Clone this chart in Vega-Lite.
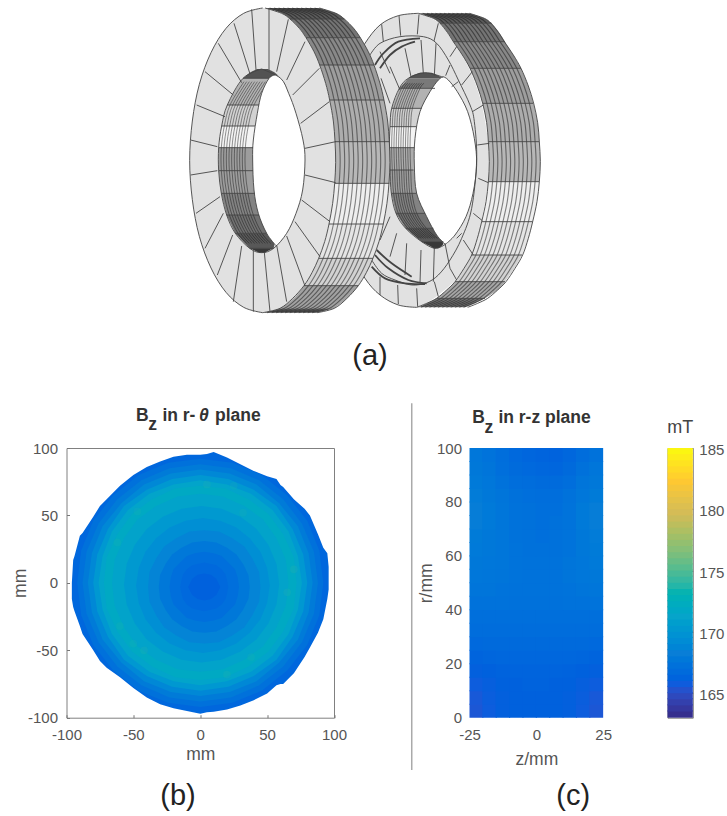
{
"$schema":"https://vega.github.io/schema/vega-lite/v6.json",
"autosize":{"type":"none"},
"padding":{"left":66.5,"top":0,"right":660.5,"bottom":816},
"background":"#ffffff",
"config":{"view":{"stroke":"#808080"},"font":"Liberation Sans","axis":{"grid":false,"domain":false,"labelFont":"Liberation Sans","titleFont":"Liberation Sans","labelColor":"#555555","titleColor":"#555555","labelFontSize":15,"titleFontSize":17.5,"titleFontWeight":"normal","tickColor":"#777777","labelFlush":false,"labelOverlap":false,"labelExpr":"toString(datum.value)"}},
"datasets":{
"ringLabel":[{"x":600,"y":1095,"t":"(a)"}],
"rSide":[
{"g":1,"b":100,"y":40,"x":745,"x2":898},{"g":1,"b":100,"y":55,"x":790,"x2":943},{"g":1,"b":100,"y":70,"x":810,"x2":965},
{"g":2,"b":125,"y":70,"x":810,"x2":965},{"g":2,"b":125,"y":97,"x":832,"x2":987},{"g":2,"b":125,"y":125,"x":850,"x2":1005},
{"g":3,"b":145,"y":125,"x":850,"x2":1005},{"g":3,"b":145,"y":165,"x":877,"x2":1030},{"g":3,"b":145,"y":205,"x":900,"x2":1053},
{"g":4,"b":165,"y":205,"x":900,"x2":1053},{"g":4,"b":165,"y":258,"x":922,"x2":1075},{"g":4,"b":165,"y":310,"x":938,"x2":1090},
{"g":5,"b":180,"y":310,"x":938,"x2":1090},{"g":5,"b":180,"y":368,"x":950,"x2":1103},{"g":5,"b":180,"y":425,"x":955,"x2":1108},
{"g":6,"b":190,"y":425,"x":955,"x2":1108},{"g":6,"b":190,"y":485,"x":958,"x2":1111},{"g":6,"b":190,"y":545,"x":955,"x2":1108},
{"g":7,"b":240,"y":545,"x":955,"x2":1108},{"g":7,"b":240,"y":605,"x":948,"x2":1101},{"g":7,"b":240,"y":665,"x":935,"x2":1088},
{"g":8,"b":232,"y":665,"x":935,"x2":1088},{"g":8,"b":232,"y":715,"x":922,"x2":1075},{"g":8,"b":232,"y":765,"x":905,"x2":1056},
{"g":9,"b":215,"y":765,"x":905,"x2":1056},{"g":9,"b":215,"y":805,"x":882,"x2":1033},{"g":9,"b":215,"y":845,"x":855,"x2":1005},
{"g":10,"b":175,"y":845,"x":855,"x2":1005},{"g":10,"b":175,"y":870,"x":830,"x2":983},{"g":10,"b":175,"y":895,"x":800,"x2":945},
{"g":11,"b":125,"y":895,"x":800,"x2":945},{"g":11,"b":125,"y":910,"x":770,"x2":915},{"g":11,"b":125,"y":922,"x":740,"x2":885}],
"aR":[{"x":745,"y":40},{"x":790,"y":55},{"x":810,"y":70},{"x":832,"y":97},{"x":850,"y":125},{"x":877,"y":165},{"x":900,"y":205},{"x":922,"y":258},{"x":938,"y":310},{"x":950,"y":368},{"x":955,"y":425},{"x":958,"y":485},{"x":955,"y":545},{"x":948,"y":605},{"x":935,"y":665},{"x":922,"y":715},{"x":905,"y":765},{"x":882,"y":805},{"x":855,"y":845},{"x":830,"y":870},{"x":800,"y":895},{"x":770,"y":910},{"x":740,"y":922}],
"rFace":[
{"g":20,"b":228,"y":40,"x":745,"x2":745},{"g":20,"b":228,"y":47,"x":685,"x2":768},{"g":20,"b":228,"y":75,"x":630,"x2":815},{"g":20,"b":228,"y":130,"x":585,"x2":852},{"g":20,"b":228,"y":200,"x":548,"x2":895},{"g":20,"b":228,"y":300,"x":505,"x2":932},{"g":20,"b":228,"y":430,"x":490,"x2":955},{"g":20,"b":228,"y":520,"x":488,"x2":958},{"g":20,"b":228,"y":650,"x":505,"x2":937},{"g":20,"b":228,"y":750,"x":540,"x2":912},{"g":20,"b":228,"y":835,"x":585,"x2":860},{"g":20,"b":228,"y":885,"x":630,"x2":805},{"g":20,"b":228,"y":915,"x":685,"x2":760},{"g":20,"b":228,"y":922,"x":740,"x2":740},
{"g":21,"b":90,"y":218,"x":750,"x2":785},{"g":21,"b":90,"y":226,"x":728,"x2":802},{"g":21,"b":90,"y":235,"x":715,"x2":818},
{"g":22,"b":130,"y":235,"x":715,"x2":818},{"g":22,"b":130,"y":265,"x":688,"x2":795},
{"g":23,"b":185,"y":265,"x":688,"x2":795},{"g":23,"b":185,"y":325,"x":665,"x2":755},
{"g":24,"b":215,"y":325,"x":665,"x2":755},{"g":24,"b":215,"y":380,"x":660,"x2":738},
{"g":25,"b":245,"y":380,"x":660,"x2":738},{"g":25,"b":245,"y":443,"x":658,"x2":733},
{"g":26,"b":180,"y":443,"x":658,"x2":733},{"g":26,"b":180,"y":510,"x":660,"x2":731},
{"g":27,"b":165,"y":510,"x":660,"x2":731},{"g":27,"b":165,"y":580,"x":664,"x2":740},
{"g":28,"b":140,"y":580,"x":664,"x2":740},{"g":28,"b":140,"y":640,"x":678,"x2":765},
{"g":29,"b":120,"y":640,"x":678,"x2":765},{"g":29,"b":120,"y":685,"x":707,"x2":790},
{"g":30,"b":95,"y":685,"x":707,"x2":790},{"g":30,"b":95,"y":725,"x":755,"x2":825},
{"g":31,"b":60,"y":725,"x":755,"x2":825},{"g":31,"b":60,"y":738,"x":780,"x2":815},{"g":31,"b":60,"y":745,"x":790,"x2":805}],
"iR":[{"x":700,"y":250},{"x":688,"y":265},{"x":665,"y":325},{"x":660,"y":380},{"x":658,"y":443},{"x":660,"y":510},{"x":664,"y":580},{"x":678,"y":640},{"x":707,"y":685},{"x":740,"y":715}],
"rHole":[{"y":230,"x":815,"x2":825},{"y":240,"x":805,"x2":835},{"y":255,"x":793,"x2":848},{"y":275,"x":780,"x2":862},{"y":335,"x":750,"x2":893},{"y":415,"x":735,"x2":913},{"y":495,"x":733,"x2":920},{"y":580,"x":740,"x2":909},{"y":650,"x":770,"x2":888},{"y":705,"x":800,"x2":855},{"y":722,"x":815,"x2":838},{"y":733,"x":822,"x2":830}],
"rLines":[
{"g":"ol","x":745,"y":40},{"g":"ol","x":685,"y":47},{"g":"ol","x":630,"y":75},{"g":"ol","x":585,"y":130},{"g":"ol","x":548,"y":200},{"g":"ol","x":505,"y":300},{"g":"ol","x":490,"y":430},{"g":"ol","x":488,"y":520},{"g":"ol","x":505,"y":650},{"g":"ol","x":540,"y":750},{"g":"ol","x":585,"y":835},{"g":"ol","x":630,"y":885},{"g":"ol","x":685,"y":915},{"g":"ol","x":740,"y":922},
{"g":"m","x":600,"y":165},{"g":"m","x":630,"y":130},{"g":"m","x":690,"y":110},{"g":"m","x":760,"y":110},{"g":"m","x":800,"y":130},{"g":"m","x":835,"y":180},{"g":"m","x":865,"y":240},{"g":"m","x":900,"y":315},{"g":"m","x":913,"y":365},{"g":"m","x":920,"y":480},{"g":"m","x":905,"y":625},{"g":"m","x":875,"y":715},{"g":"m","x":840,"y":780},{"g":"m","x":805,"y":825},{"g":"m","x":770,"y":848},{"g":"m","x":725,"y":855},{"g":"m","x":675,"y":840},{"g":"m","x":635,"y":820},{"g":"m","x":605,"y":780},
{"g":"if","x":820,"y":232},{"g":"if","x":765,"y":218},{"g":"if","x":715,"y":235},{"g":"if","x":688,"y":265},{"g":"if","x":665,"y":325},{"g":"if","x":660,"y":380},{"g":"if","x":658,"y":443},{"g":"if","x":660,"y":510},{"g":"if","x":664,"y":580},{"g":"if","x":678,"y":640},{"g":"if","x":707,"y":685},{"g":"if","x":755,"y":725},{"g":"if","x":795,"y":745},{"g":"if","x":826,"y":733},
{"g":"hl","x":820,"y":230},{"g":"hl","x":805,"y":240},{"g":"hl","x":780,"y":275},{"g":"hl","x":750,"y":335},{"g":"hl","x":735,"y":415},{"g":"hl","x":733,"y":495},{"g":"hl","x":740,"y":580},{"g":"hl","x":770,"y":650},{"g":"hl","x":800,"y":705},{"g":"hl","x":826,"y":733},
{"g":"hr","x":820,"y":230},{"g":"hr","x":835,"y":240},{"g":"hr","x":862,"y":275},{"g":"hr","x":893,"y":335},{"g":"hr","x":913,"y":415},{"g":"hr","x":920,"y":495},{"g":"hr","x":909,"y":580},{"g":"hr","x":888,"y":650},{"g":"hr","x":855,"y":705},{"g":"hr","x":826,"y":733}],
"rGroove":[
{"g":"g1","x":615,"y":195},{"g":"g1","x":640,"y":160},{"g":"g1","x":685,"y":125},{"g":"g1","x":750,"y":115},
{"g":"g2","x":630,"y":205},{"g":"g2","x":660,"y":165},{"g":"g2","x":695,"y":140},{"g":"g2","x":735,"y":125},
{"g":"g3","x":605,"y":800},{"g":"g3","x":645,"y":835},{"g":"g3","x":705,"y":850},{"g":"g3","x":765,"y":852},
{"g":"g4","x":615,"y":765},{"g":"g4","x":655,"y":805},{"g":"g4","x":715,"y":840},{"g":"g4","x":770,"y":850},
{"g":"g5","x":620,"y":750},{"g":"g5","x":665,"y":790},{"g":"g5","x":725,"y":830}],
"rSeg":[
{"x":635,"y":73,"x2":640,"y2":125},{"x":687,"y":47,"x2":692,"y2":107},{"x":747,"y":43,"x2":742,"y2":103},{"x":805,"y":70,"x2":792,"y2":123},{"x":860,"y":140,"x2":840,"y2":170},{"x":907,"y":215,"x2":875,"y2":255},{"x":940,"y":315,"x2":907,"y2":335},{"x":958,"y":430,"x2":922,"y2":435},
{"x":705,"y":145,"x2":723,"y2":230},{"x":753,"y":120,"x2":760,"y2":220},{"x":798,"y":130,"x2":793,"y2":227},{"x":840,"y":195,"x2":827,"y2":227},{"x":660,"y":200,"x2":690,"y2":270},{"x":630,"y":155,"x2":660,"y2":220},{"x":633,"y":235,"x2":660,"y2":310},{"x":865,"y":245,"x2":845,"y2":260},
{"x":925,"y":535,"x2":955,"y2":548},{"x":910,"y":640,"x2":937,"y2":662},{"x":880,"y":720,"x2":910,"y2":765},{"x":840,"y":805,"x2":860,"y2":840},{"x":793,"y":845,"x2":805,"y2":890},{"x":740,"y":865,"x2":743,"y2":920},{"x":683,"y":855,"x2":685,"y2":912},{"x":630,"y":830,"x2":630,"y2":885},
{"x":860,"y":715,"x2":875,"y2":700},{"x":825,"y":730,"x2":840,"y2":805},{"x":793,"y":742,"x2":790,"y2":845},{"x":753,"y":750,"x2":750,"y2":850},{"x":710,"y":730,"x2":705,"y2":825},{"x":680,"y":700,"x2":660,"y2":770},{"x":660,"y":650,"x2":630,"y2":720},
{"x":810,"y":70,"x2":965,"y2":70},{"x":850,"y":125,"x2":1005,"y2":125},{"x":900,"y":205,"x2":1053,"y2":205},{"x":938,"y":310,"x2":1090,"y2":310},{"x":955,"y":425,"x2":1108,"y2":425},{"x":955,"y":545,"x2":1108,"y2":545},{"x":935,"y":665,"x2":1088,"y2":665},{"x":905,"y":765,"x2":1056,"y2":765},{"x":855,"y":845,"x2":1005,"y2":845},{"x":800,"y":895,"x2":945,"y2":895},
{"x":688,"y":265,"x2":795,"y2":265},{"x":665,"y":325,"x2":755,"y2":325},{"x":660,"y":380,"x2":738,"y2":380},{"x":658,"y":443,"x2":733,"y2":443},{"x":660,"y":510,"x2":731,"y2":510},{"x":664,"y":580,"x2":740,"y2":580},{"x":678,"y":640,"x2":765,"y2":640},{"x":707,"y":685,"x2":790,"y2":685},{"x":755,"y":725,"x2":820,"y2":725}],
"lSide":[
{"g":1,"b":100,"y":24,"x":285,"x2":448},{"g":1,"b":100,"y":40,"x":335,"x2":498},{"g":1,"b":100,"y":57,"x":360,"x2":523},
{"g":2,"b":125,"y":57,"x":360,"x2":523},{"g":2,"b":125,"y":85,"x":388,"x2":551},{"g":2,"b":125,"y":113,"x":408,"x2":571},
{"g":3,"b":145,"y":113,"x":408,"x2":571},{"g":3,"b":145,"y":155,"x":432,"x2":595},{"g":3,"b":145,"y":195,"x":449,"x2":612},
{"g":4,"b":165,"y":195,"x":449,"x2":612},{"g":4,"b":165,"y":250,"x":467,"x2":630},{"g":4,"b":165,"y":300,"x":479,"x2":642},
{"g":5,"b":180,"y":300,"x":479,"x2":642},{"g":5,"b":180,"y":363,"x":490,"x2":653},{"g":5,"b":180,"y":425,"x":495,"x2":658},
{"g":6,"b":190,"y":425,"x":495,"x2":658},{"g":6,"b":190,"y":487,"x":497,"x2":660},{"g":6,"b":190,"y":550,"x":494,"x2":658},
{"g":7,"b":240,"y":550,"x":494,"x2":658},{"g":7,"b":240,"y":610,"x":488,"x2":652},{"g":7,"b":240,"y":672,"x":477,"x2":640},
{"g":8,"b":232,"y":672,"x":477,"x2":640},{"g":8,"b":232,"y":725,"x":464,"x2":627},{"g":8,"b":232,"y":775,"x":446,"x2":609},
{"g":9,"b":215,"y":775,"x":446,"x2":609},{"g":9,"b":215,"y":818,"x":426,"x2":589},{"g":9,"b":215,"y":857,"x":402,"x2":565},
{"g":10,"b":170,"y":857,"x":402,"x2":565},{"g":10,"b":170,"y":895,"x":368,"x2":531},{"g":10,"b":170,"y":925,"x":330,"x2":493},
{"g":11,"b":125,"y":925,"x":330,"x2":493},{"g":11,"b":125,"y":938,"x":278,"x2":441}],
"aL":[{"x":285,"y":24},{"x":335,"y":40},{"x":360,"y":57},{"x":388,"y":85},{"x":408,"y":113},{"x":432,"y":155},{"x":449,"y":195},{"x":467,"y":250},{"x":479,"y":300},{"x":490,"y":363},{"x":495,"y":425},{"x":497,"y":487},{"x":494,"y":550},{"x":488,"y":610},{"x":477,"y":672},{"x":464,"y":725},{"x":446,"y":775},{"x":426,"y":818},{"x":402,"y":857},{"x":368,"y":895},{"x":330,"y":925},{"x":278,"y":938}],
"lFace":[
{"g":20,"b":228,"y":24,"x":278,"x2":278},{"g":20,"b":228,"y":40,"x":221,"x2":335},{"g":20,"b":228,"y":85,"x":168,"x2":388},{"g":20,"b":228,"y":158,"x":123,"x2":433},{"g":20,"b":228,"y":253,"x":88,"x2":468},{"g":20,"b":228,"y":363,"x":67,"x2":490},{"g":20,"b":228,"y":481,"x":59,"x2":497},{"g":20,"b":228,"y":599,"x":67,"x2":490},{"g":20,"b":228,"y":709,"x":88,"x2":468},{"g":20,"b":228,"y":804,"x":123,"x2":433},{"g":20,"b":228,"y":877,"x":168,"x2":388},{"g":20,"b":228,"y":922,"x":221,"x2":335},{"g":20,"b":228,"y":938,"x":278,"x2":278},
{"g":21,"b":90,"y":207,"x":262,"x2":292},{"g":21,"b":90,"y":218,"x":240,"x2":315},{"g":21,"b":90,"y":235,"x":219,"x2":332},
{"g":22,"b":185,"y":235,"x":219,"x2":332},{"g":22,"b":185,"y":275,"x":193,"x2":330},{"g":22,"b":185,"y":315,"x":172,"x2":300},
{"g":23,"b":215,"y":315,"x":172,"x2":300},{"g":23,"b":215,"y":378,"x":155,"x2":300},
{"g":24,"b":245,"y":378,"x":155,"x2":300},{"g":24,"b":245,"y":443,"x":146,"x2":300},
{"g":25,"b":165,"y":443,"x":146,"x2":300},{"g":25,"b":165,"y":512,"x":146,"x2":300},
{"g":26,"b":165,"y":512,"x":146,"x2":300},{"g":26,"b":165,"y":580,"x":154,"x2":300},
{"g":27,"b":140,"y":580,"x":154,"x2":300},{"g":27,"b":140,"y":645,"x":170,"x2":300},
{"g":28,"b":120,"y":645,"x":170,"x2":300},{"g":28,"b":120,"y":700,"x":196,"x2":320},
{"g":29,"b":95,"y":700,"x":196,"x2":320},{"g":29,"b":95,"y":745,"x":239,"x2":311},
{"g":30,"b":60,"y":745,"x":239,"x2":311},{"g":30,"b":60,"y":752,"x":255,"x2":295},{"g":30,"b":60,"y":758,"x":268,"x2":285}],
"iL":[{"x":214,"y":245},{"x":172,"y":315},{"x":155,"y":378},{"x":146,"y":443},{"x":146,"y":512},{"x":154,"y":580},{"x":170,"y":645},{"x":196,"y":700},{"x":222,"y":730}],
"lHole":[{"y":226,"x":310,"x2":320},{"y":235,"x":297,"x2":332},{"y":250,"x":288,"x2":341},{"y":280,"x":275,"x2":356},{"y":340,"x":262,"x2":378},{"y":420,"x":250,"x2":399},{"y":480,"x":248,"x2":405},{"y":570,"x":252,"x2":398},{"y":640,"x":265,"x2":378},{"y":700,"x":290,"x2":350},{"y":725,"x":308,"x2":330},{"y":737,"x":318,"x2":322}],
"lLines":[
{"g":"ol","x":278,"y":24},{"g":"ol","x":221,"y":40},{"g":"ol","x":168,"y":85},{"g":"ol","x":123,"y":158},{"g":"ol","x":88,"y":253},{"g":"ol","x":67,"y":363},{"g":"ol","x":59,"y":481},{"g":"ol","x":67,"y":599},{"g":"ol","x":88,"y":709},{"g":"ol","x":123,"y":804},{"g":"ol","x":168,"y":877},{"g":"ol","x":221,"y":922},{"g":"ol","x":278,"y":938},
{"g":"if","x":275,"y":207},{"g":"if","x":219,"y":235},{"g":"if","x":172,"y":315},{"g":"if","x":155,"y":378},{"g":"if","x":146,"y":443},{"g":"if","x":146,"y":512},{"g":"if","x":154,"y":580},{"g":"if","x":170,"y":645},{"g":"if","x":196,"y":700},{"g":"if","x":239,"y":745},{"g":"if","x":275,"y":758},{"g":"if","x":311,"y":745},{"g":"if","x":350,"y":700},{"g":"if","x":378,"y":640},{"g":"if","x":398,"y":570},{"g":"if","x":405,"y":480},{"g":"if","x":399,"y":420},{"g":"if","x":378,"y":340},{"g":"if","x":356,"y":280},{"g":"if","x":332,"y":235},{"g":"if","x":275,"y":207},
{"g":"hl","x":315,"y":225},{"g":"hl","x":297,"y":235},{"g":"hl","x":275,"y":280},{"g":"hl","x":262,"y":340},{"g":"hl","x":250,"y":420},{"g":"hl","x":248,"y":480},{"g":"hl","x":252,"y":570},{"g":"hl","x":265,"y":640},{"g":"hl","x":290,"y":700},{"g":"hl","x":318,"y":737}],
"lSeg":[
{"x":258,"y":210,"x2":245,"y2":28},{"x":297,"y":210,"x2":297,"y2":26},{"x":320,"y":215,"x2":355,"y2":58},{"x":350,"y":240,"x2":405,"y2":125},{"x":368,"y":285,"x2":448,"y2":205},{"x":392,"y":370,"x2":478,"y2":305},{"x":405,"y":445,"x2":497,"y2":425},{"x":405,"y":525,"x2":497,"y2":548},{"x":395,"y":600,"x2":480,"y2":665},{"x":375,"y":665,"x2":450,"y2":770},{"x":350,"y":708,"x2":405,"y2":858},{"x":320,"y":735,"x2":350,"y2":905},{"x":283,"y":757,"x2":300,"y2":935},{"x":250,"y":752,"x2":250,"y2":935},{"x":215,"y":738,"x2":190,"y2":905},{"x":188,"y":705,"x2":142,"y2":825},{"x":160,"y":640,"x2":105,"y2":745},{"x":150,"y":590,"x2":78,"y2":640},{"x":142,"y":512,"x2":62,"y2":525},{"x":142,"y":440,"x2":62,"y2":420},{"x":165,"y":350,"x2":80,"y2":315},{"x":190,"y":285,"x2":105,"y2":215},{"x":215,"y":248,"x2":145,"y2":130},{"x":240,"y":222,"x2":192,"y2":70},
{"x":360,"y":57,"x2":523,"y2":57},{"x":408,"y":113,"x2":571,"y2":113},{"x":449,"y":195,"x2":612,"y2":195},{"x":479,"y":300,"x2":642,"y2":300},{"x":495,"y":425,"x2":658,"y2":425},{"x":494,"y":550,"x2":658,"y2":550},{"x":477,"y":672,"x2":640,"y2":672},{"x":446,"y":775,"x2":609,"y2":775},{"x":402,"y":857,"x2":565,"y2":857},
{"x":219,"y":235,"x2":297,"y2":235},{"x":172,"y":315,"x2":267,"y2":315},{"x":155,"y":378,"x2":255,"y2":378},{"x":146,"y":443,"x2":249,"y2":443},{"x":146,"y":512,"x2":249,"y2":512},{"x":154,"y":580,"x2":254,"y2":580},{"x":170,"y":645,"x2":267,"y2":645},{"x":196,"y":700,"x2":290,"y2":700},{"x":239,"y":745,"x2":311,"y2":745}],
"field":[
{"v":166.5,"x":-96,"y":0,"y2":-12},{"v":166.5,"x":-95,"y":17,"y2":-18},{"v":166.5,"x":-94,"y":20,"y2":-21},{"v":166.5,"x":-90,"y":35,"y2":-32},{"v":166.5,"x":-88,"y":37,"y2":-38},{"v":166.5,"x":-80,"y":49,"y2":-50},{"v":166.5,"x":-75,"y":57,"y2":-58},{"v":166.5,"x":-70,"y":62,"y2":-63},{"v":166.5,"x":-60,"y":72,"y2":-70},{"v":166.5,"x":-50,"y":80,"y2":-78},{"v":166.5,"x":-40,"y":86,"y2":-85},{"v":166.5,"x":-30,"y":90,"y2":-90},{"v":166.5,"x":-20,"y":93.5,"y2":-93},{"v":166.5,"x":-10,"y":95,"y2":-95},{"v":166.5,"x":0,"y":95,"y2":-97},{"v":166.5,"x":5,"y":95.5,"y2":-96},{"v":166.5,"x":10,"y":97,"y2":-95.5},{"v":166.5,"x":20,"y":93,"y2":-94},{"v":166.5,"x":30,"y":88,"y2":-91},{"v":166.5,"x":40,"y":83,"y2":-87},{"v":166.5,"x":50,"y":79,"y2":-82},{"v":166.5,"x":57,"y":77,"y2":-76},{"v":166.5,"x":60,"y":72.6,"y2":-75},{"v":166.5,"x":62,"y":71,"y2":-75},{"v":166.5,"x":70,"y":62,"y2":-67},{"v":166.5,"x":78,"y":55,"y2":-55},{"v":166.5,"x":82,"y":50,"y2":-48},{"v":166.5,"x":88,"y":36,"y2":-37},{"v":166.5,"x":92,"y":26,"y2":-27},{"v":166.5,"x":95,"y":22,"y2":-12},{"v":166.5,"x":96,"y":12,"y2":-5},
{"v":167.2,"x":-92,"y":0,"y2":0},{"v":167.2,"x":-89,"y":24,"y2":-24},{"v":167.2,"x":-80,"y":46,"y2":-46},{"v":167.2,"x":-65,"y":65,"y2":-65},{"v":167.2,"x":-46,"y":80,"y2":-80},{"v":167.2,"x":-24,"y":89,"y2":-89},{"v":167.2,"x":0,"y":92,"y2":-92},{"v":167.2,"x":24,"y":89,"y2":-89},{"v":167.2,"x":46,"y":80,"y2":-80},{"v":167.2,"x":65,"y":65,"y2":-65},{"v":167.2,"x":80,"y":46,"y2":-46},{"v":167.2,"x":89,"y":24,"y2":-24},{"v":167.2,"x":92,"y":0,"y2":0},
{"v":168,"x":-88,"y":0,"y2":0},{"v":168,"x":-85,"y":23,"y2":-23},{"v":168,"x":-76,"y":44,"y2":-44},{"v":168,"x":-62,"y":62,"y2":-62},{"v":168,"x":-44,"y":76,"y2":-76},{"v":168,"x":-23,"y":85,"y2":-85},{"v":168,"x":0,"y":88,"y2":-88},{"v":168,"x":23,"y":85,"y2":-85},{"v":168,"x":44,"y":76,"y2":-76},{"v":168,"x":62,"y":62,"y2":-62},{"v":168,"x":76,"y":44,"y2":-44},{"v":168,"x":85,"y":23,"y2":-23},{"v":168,"x":88,"y":0,"y2":0},
{"v":169,"x":-84,"y":0,"y2":0},{"v":169,"x":-81,"y":22,"y2":-22},{"v":169,"x":-73,"y":42,"y2":-42},{"v":169,"x":-59,"y":59,"y2":-59},{"v":169,"x":-42,"y":73,"y2":-73},{"v":169,"x":-22,"y":81,"y2":-81},{"v":169,"x":0,"y":84,"y2":-84},{"v":169,"x":22,"y":81,"y2":-81},{"v":169,"x":42,"y":73,"y2":-73},{"v":169,"x":59,"y":59,"y2":-59},{"v":169,"x":73,"y":42,"y2":-42},{"v":169,"x":81,"y":22,"y2":-22},{"v":169,"x":84,"y":0,"y2":0},
{"v":170.2,"x":-80,"y":0,"y2":0},{"v":170.2,"x":-77,"y":21,"y2":-21},{"v":170.2,"x":-69,"y":40,"y2":-40},{"v":170.2,"x":-57,"y":57,"y2":-57},{"v":170.2,"x":-40,"y":69,"y2":-69},{"v":170.2,"x":-21,"y":77,"y2":-77},{"v":170.2,"x":0,"y":80,"y2":-80},{"v":170.2,"x":21,"y":77,"y2":-77},{"v":170.2,"x":40,"y":69,"y2":-69},{"v":170.2,"x":57,"y":57,"y2":-57},{"v":170.2,"x":69,"y":40,"y2":-40},{"v":170.2,"x":77,"y":21,"y2":-21},{"v":170.2,"x":80,"y":0,"y2":0},
{"v":171.3,"x":-76,"y":0,"y2":0},{"v":171.3,"x":-73,"y":20,"y2":-20},{"v":171.3,"x":-66,"y":38,"y2":-38},{"v":171.3,"x":-54,"y":54,"y2":-54},{"v":171.3,"x":-38,"y":66,"y2":-66},{"v":171.3,"x":-20,"y":73,"y2":-73},{"v":171.3,"x":0,"y":76,"y2":-76},{"v":171.3,"x":20,"y":73,"y2":-73},{"v":171.3,"x":38,"y":66,"y2":-66},{"v":171.3,"x":54,"y":54,"y2":-54},{"v":171.3,"x":66,"y":38,"y2":-38},{"v":171.3,"x":73,"y":20,"y2":-20},{"v":171.3,"x":76,"y":0,"y2":0},
{"v":171.9,"x":-72,"y":0,"y2":0},{"v":171.9,"x":-70,"y":19,"y2":-19},{"v":171.9,"x":-62,"y":36,"y2":-36},{"v":171.9,"x":-51,"y":51,"y2":-51},{"v":171.9,"x":-36,"y":62,"y2":-62},{"v":171.9,"x":-19,"y":70,"y2":-70},{"v":171.9,"x":0,"y":72,"y2":-72},{"v":171.9,"x":19,"y":70,"y2":-70},{"v":171.9,"x":36,"y":62,"y2":-62},{"v":171.9,"x":51,"y":51,"y2":-51},{"v":171.9,"x":62,"y":36,"y2":-36},{"v":171.9,"x":70,"y":19,"y2":-19},{"v":171.9,"x":72,"y":0,"y2":0},
{"v":171.2,"x":-66,"y":0,"y2":0},{"v":171.2,"x":-64,"y":17,"y2":-17},{"v":171.2,"x":-57,"y":33,"y2":-33},{"v":171.2,"x":-47,"y":47,"y2":-47},{"v":171.2,"x":-33,"y":57,"y2":-57},{"v":171.2,"x":-17,"y":64,"y2":-64},{"v":171.2,"x":0,"y":66,"y2":-66},{"v":171.2,"x":17,"y":64,"y2":-64},{"v":171.2,"x":33,"y":57,"y2":-57},{"v":171.2,"x":47,"y":47,"y2":-47},{"v":171.2,"x":57,"y":33,"y2":-33},{"v":171.2,"x":64,"y":17,"y2":-17},{"v":171.2,"x":66,"y":0,"y2":0},
{"v":170.3,"x":-57,"y":-1,"y2":-1},{"v":170.3,"x":-55,"y":14,"y2":-16},{"v":170.3,"x":-49,"y":28,"y2":-30},{"v":170.3,"x":-40,"y":40,"y2":-42},{"v":170.3,"x":-28,"y":49,"y2":-51},{"v":170.3,"x":-14,"y":55,"y2":-57},{"v":170.3,"x":1,"y":57,"y2":-59},{"v":170.3,"x":16,"y":55,"y2":-57},{"v":170.3,"x":30,"y":49,"y2":-51},{"v":170.3,"x":42,"y":40,"y2":-42},{"v":170.3,"x":51,"y":28,"y2":-30},{"v":170.3,"x":57,"y":14,"y2":-16},{"v":170.3,"x":59,"y":-1,"y2":-1},
{"v":169.5,"x":-48,"y":-2,"y2":-2},{"v":169.5,"x":-46,"y":11,"y2":-15},{"v":169.5,"x":-41,"y":23,"y2":-27},{"v":169.5,"x":-33,"y":33,"y2":-37},{"v":169.5,"x":-23,"y":41,"y2":-45},{"v":169.5,"x":-11,"y":46,"y2":-50},{"v":169.5,"x":2,"y":48,"y2":-52},{"v":169.5,"x":15,"y":46,"y2":-50},{"v":169.5,"x":27,"y":41,"y2":-45},{"v":169.5,"x":37,"y":33,"y2":-37},{"v":169.5,"x":45,"y":23,"y2":-27},{"v":169.5,"x":50,"y":11,"y2":-15},{"v":169.5,"x":52,"y":-2,"y2":-2},
{"v":168.7,"x":-39,"y":-3,"y2":-3},{"v":168.7,"x":-38,"y":8,"y2":-14},{"v":168.7,"x":-33,"y":18,"y2":-24},{"v":168.7,"x":-27,"y":27,"y2":-33},{"v":168.7,"x":-18,"y":33,"y2":-39},{"v":168.7,"x":-8,"y":38,"y2":-44},{"v":168.7,"x":3,"y":39,"y2":-45},{"v":168.7,"x":14,"y":38,"y2":-44},{"v":168.7,"x":24,"y":33,"y2":-39},{"v":168.7,"x":33,"y":27,"y2":-33},{"v":168.7,"x":39,"y":18,"y2":-24},{"v":168.7,"x":44,"y":8,"y2":-14},{"v":168.7,"x":45,"y":-3,"y2":-3},
{"v":167.8,"x":-31,"y":-3,"y2":-3},{"v":167.8,"x":-30,"y":6,"y2":-12},{"v":167.8,"x":-26,"y":14,"y2":-20},{"v":167.8,"x":-21,"y":21,"y2":-27},{"v":167.8,"x":-14,"y":26,"y2":-32},{"v":167.8,"x":-6,"y":30,"y2":-36},{"v":167.8,"x":3,"y":31,"y2":-37},{"v":167.8,"x":12,"y":30,"y2":-36},{"v":167.8,"x":20,"y":26,"y2":-32},{"v":167.8,"x":27,"y":21,"y2":-27},{"v":167.8,"x":32,"y":14,"y2":-20},{"v":167.8,"x":36,"y":6,"y2":-12},{"v":167.8,"x":37,"y":-3,"y2":-3},
{"v":167.1,"x":-23,"y":-3,"y2":-3},{"v":167.1,"x":-22,"y":4,"y2":-10},{"v":167.1,"x":-20,"y":10,"y2":-16},{"v":167.1,"x":-15,"y":15,"y2":-21},{"v":167.1,"x":-10,"y":20,"y2":-26},{"v":167.1,"x":-4,"y":22,"y2":-28},{"v":167.1,"x":3,"y":23,"y2":-29},{"v":167.1,"x":10,"y":22,"y2":-28},{"v":167.1,"x":16,"y":20,"y2":-26},{"v":167.1,"x":21,"y":15,"y2":-21},{"v":167.1,"x":26,"y":10,"y2":-16},{"v":167.1,"x":28,"y":4,"y2":-10},{"v":167.1,"x":29,"y":-3,"y2":-3},
{"v":166.6,"x":-15,"y":-3,"y2":-3},{"v":166.6,"x":-14,"y":2,"y2":-8},{"v":166.6,"x":-13,"y":6,"y2":-12},{"v":166.6,"x":-10,"y":10,"y2":-16},{"v":166.6,"x":-6,"y":13,"y2":-19},{"v":166.6,"x":-2,"y":14,"y2":-20},{"v":166.6,"x":3,"y":15,"y2":-21},{"v":166.6,"x":8,"y":14,"y2":-20},{"v":166.6,"x":12,"y":13,"y2":-19},{"v":166.6,"x":16,"y":10,"y2":-16},{"v":166.6,"x":19,"y":6,"y2":-12},{"v":166.6,"x":20,"y":2,"y2":-8},{"v":166.6,"x":21,"y":-3,"y2":-3},
{"v":166.1,"x":-9,"y":-3,"y2":-3},{"v":166.1,"x":-6,"y":3,"y2":-9},{"v":166.1,"x":-2,"y":6,"y2":-12},{"v":166.1,"x":3,"y":7,"y2":-13},{"v":166.1,"x":8,"y":6,"y2":-12},{"v":166.1,"x":12,"y":3,"y2":-9},{"v":166.1,"x":15,"y":-3,"y2":-3}],
"spots":[{"x":5,"y":73,"v":174.5},{"x":-47,"y":53,"v":174},{"x":32,"y":52,"v":174},{"x":70,"y":10,"v":175},{"x":65,"y":-7,"v":174.5},{"x":-62,"y":30,"v":174},{"x":-60,"y":-32,"v":174},{"x":-42,"y":-50,"v":174.5},{"x":20,"y":-68,"v":174.5},{"x":38,"y":-55,"v":174},{"x":-50,"y":-45,"v":174},{"x":25,"y":72,"v":174}],
"rz":[
{"x":-22.5,"y":2.5,"v":165.5},{"x":-17.5,"y":2.5,"v":165.8},{"x":-12.5,"y":2.5,"v":166},{"x":-7.5,"y":2.5,"v":166.1},{"x":-2.5,"y":2.5,"v":166.1},{"x":2.5,"y":2.5,"v":166.1},{"x":7.5,"y":2.5,"v":166.1},{"x":12.5,"y":2.5,"v":166},{"x":17.5,"y":2.5,"v":165.8},{"x":22.5,"y":2.5,"v":165.5},
{"x":-22.5,"y":7.5,"v":165.6},{"x":-17.5,"y":7.5,"v":165.85},{"x":-12.5,"y":7.5,"v":166},{"x":-7.5,"y":7.5,"v":166.1},{"x":-2.5,"y":7.5,"v":166.1},{"x":2.5,"y":7.5,"v":166.1},{"x":7.5,"y":7.5,"v":166.1},{"x":12.5,"y":7.5,"v":166},{"x":17.5,"y":7.5,"v":165.85},{"x":22.5,"y":7.5,"v":165.6},
{"x":-22.5,"y":12.5,"v":165.8},{"x":-17.5,"y":12.5,"v":165.95},{"x":-12.5,"y":12.5,"v":166.1},{"x":-7.5,"y":12.5,"v":166.1},{"x":-2.5,"y":12.5,"v":166.2},{"x":2.5,"y":12.5,"v":166.2},{"x":7.5,"y":12.5,"v":166.1},{"x":12.5,"y":12.5,"v":166.1},{"x":17.5,"y":12.5,"v":165.95},{"x":22.5,"y":12.5,"v":165.8},
{"x":-22.5,"y":17.5,"v":166},{"x":-17.5,"y":17.5,"v":166.1},{"x":-12.5,"y":17.5,"v":166.2},{"x":-7.5,"y":17.5,"v":166.3},{"x":-2.5,"y":17.5,"v":166.3},{"x":2.5,"y":17.5,"v":166.3},{"x":7.5,"y":17.5,"v":166.3},{"x":12.5,"y":17.5,"v":166.2},{"x":17.5,"y":17.5,"v":166.1},{"x":22.5,"y":17.5,"v":166},
{"x":-22.5,"y":22.5,"v":166.3},{"x":-17.5,"y":22.5,"v":166.4},{"x":-12.5,"y":22.5,"v":166.5},{"x":-7.5,"y":22.5,"v":166.5},{"x":-2.5,"y":22.5,"v":166.5},{"x":2.5,"y":22.5,"v":166.5},{"x":7.5,"y":22.5,"v":166.5},{"x":12.5,"y":22.5,"v":166.5},{"x":17.5,"y":22.5,"v":166.4},{"x":22.5,"y":22.5,"v":166.3},
{"x":-22.5,"y":27.5,"v":166.6},{"x":-17.5,"y":27.5,"v":166.7},{"x":-12.5,"y":27.5,"v":166.7},{"x":-7.5,"y":27.5,"v":166.7},{"x":-2.5,"y":27.5,"v":166.7},{"x":2.5,"y":27.5,"v":166.7},{"x":7.5,"y":27.5,"v":166.7},{"x":12.5,"y":27.5,"v":166.7},{"x":17.5,"y":27.5,"v":166.7},{"x":22.5,"y":27.5,"v":166.6},
{"x":-22.5,"y":32.5,"v":166.9},{"x":-17.5,"y":32.5,"v":166.9},{"x":-12.5,"y":32.5,"v":166.9},{"x":-7.5,"y":32.5,"v":166.9},{"x":-2.5,"y":32.5,"v":166.9},{"x":2.5,"y":32.5,"v":166.9},{"x":7.5,"y":32.5,"v":166.9},{"x":12.5,"y":32.5,"v":166.9},{"x":17.5,"y":32.5,"v":166.9},{"x":22.5,"y":32.5,"v":166.9},
{"x":-22.5,"y":37.5,"v":167.1},{"x":-17.5,"y":37.5,"v":167.1},{"x":-12.5,"y":37.5,"v":167.1},{"x":-7.5,"y":37.5,"v":167.1},{"x":-2.5,"y":37.5,"v":167.1},{"x":2.5,"y":37.5,"v":167.1},{"x":7.5,"y":37.5,"v":167.1},{"x":12.5,"y":37.5,"v":167.1},{"x":17.5,"y":37.5,"v":167.1},{"x":22.5,"y":37.5,"v":167.1},
{"x":-22.5,"y":42.5,"v":167.3},{"x":-17.5,"y":42.5,"v":167.3},{"x":-12.5,"y":42.5,"v":167.3},{"x":-7.5,"y":42.5,"v":167.2},{"x":-2.5,"y":42.5,"v":167.2},{"x":2.5,"y":42.5,"v":167.2},{"x":7.5,"y":42.5,"v":167.2},{"x":12.5,"y":42.5,"v":167.3},{"x":17.5,"y":42.5,"v":167.3},{"x":22.5,"y":42.5,"v":167.4},
{"x":-22.5,"y":47.5,"v":167.5},{"x":-17.5,"y":47.5,"v":167.5},{"x":-12.5,"y":47.5,"v":167.4},{"x":-7.5,"y":47.5,"v":167.3},{"x":-2.5,"y":47.5,"v":167.3},{"x":2.5,"y":47.5,"v":167.3},{"x":7.5,"y":47.5,"v":167.3},{"x":12.5,"y":47.5,"v":167.4},{"x":17.5,"y":47.5,"v":167.5},{"x":22.5,"y":47.5,"v":167.6},
{"x":-22.5,"y":52.5,"v":167.7},{"x":-17.5,"y":52.5,"v":167.6},{"x":-12.5,"y":52.5,"v":167.5},{"x":-7.5,"y":52.5,"v":167.4},{"x":-2.5,"y":52.5,"v":167.3},{"x":2.5,"y":52.5,"v":167.3},{"x":7.5,"y":52.5,"v":167.3},{"x":12.5,"y":52.5,"v":167.5},{"x":17.5,"y":52.5,"v":167.7},{"x":22.5,"y":52.5,"v":167.8},
{"x":-22.5,"y":57.5,"v":167.8},{"x":-17.5,"y":57.5,"v":167.7},{"x":-12.5,"y":57.5,"v":167.6},{"x":-7.5,"y":57.5,"v":167.4},{"x":-2.5,"y":57.5,"v":167.3},{"x":2.5,"y":57.5,"v":167.3},{"x":7.5,"y":57.5,"v":167.3},{"x":12.5,"y":57.5,"v":167.5},{"x":17.5,"y":57.5,"v":167.7},{"x":22.5,"y":57.5,"v":167.9},
{"x":-22.5,"y":62.5,"v":167.9},{"x":-17.5,"y":62.5,"v":167.8},{"x":-12.5,"y":62.5,"v":167.6},{"x":-7.5,"y":62.5,"v":167.4},{"x":-2.5,"y":62.5,"v":167.2},{"x":2.5,"y":62.5,"v":167.2},{"x":7.5,"y":62.5,"v":167.2},{"x":12.5,"y":62.5,"v":167.4},{"x":17.5,"y":62.5,"v":167.8},{"x":22.5,"y":62.5,"v":168},
{"x":-22.5,"y":67.5,"v":168},{"x":-17.5,"y":67.5,"v":167.8},{"x":-12.5,"y":67.5,"v":167.6},{"x":-7.5,"y":67.5,"v":167.3},{"x":-2.5,"y":67.5,"v":167.2},{"x":2.5,"y":67.5,"v":167.1},{"x":7.5,"y":67.5,"v":167.2},{"x":12.5,"y":67.5,"v":167.4},{"x":17.5,"y":67.5,"v":167.8},{"x":22.5,"y":67.5,"v":168.1},
{"x":-22.5,"y":72.5,"v":168.2},{"x":-17.5,"y":72.5,"v":167.9},{"x":-12.5,"y":72.5,"v":167.6},{"x":-7.5,"y":72.5,"v":167.3},{"x":-2.5,"y":72.5,"v":167.2},{"x":2.5,"y":72.5,"v":167.1},{"x":7.5,"y":72.5,"v":167.2},{"x":12.5,"y":72.5,"v":167.4},{"x":17.5,"y":72.5,"v":167.9},{"x":22.5,"y":72.5,"v":168.2},
{"x":-22.5,"y":77.5,"v":168.2},{"x":-17.5,"y":77.5,"v":167.9},{"x":-12.5,"y":77.5,"v":167.6},{"x":-7.5,"y":77.5,"v":167.3},{"x":-2.5,"y":77.5,"v":167.2},{"x":2.5,"y":77.5,"v":167.1},{"x":7.5,"y":77.5,"v":167.1},{"x":12.5,"y":77.5,"v":167.4},{"x":17.5,"y":77.5,"v":167.9},{"x":22.5,"y":77.5,"v":168.2},
{"x":-22.5,"y":82.5,"v":168.1},{"x":-17.5,"y":82.5,"v":167.8},{"x":-12.5,"y":82.5,"v":167.5},{"x":-7.5,"y":82.5,"v":167.2},{"x":-2.5,"y":82.5,"v":167.1},{"x":2.5,"y":82.5,"v":167},{"x":7.5,"y":82.5,"v":167},{"x":12.5,"y":82.5,"v":167.3},{"x":17.5,"y":82.5,"v":167.7},{"x":22.5,"y":82.5,"v":168},
{"x":-22.5,"y":87.5,"v":167.9},{"x":-17.5,"y":87.5,"v":167.7},{"x":-12.5,"y":87.5,"v":167.3},{"x":-7.5,"y":87.5,"v":167},{"x":-2.5,"y":87.5,"v":166.9},{"x":2.5,"y":87.5,"v":166.8},{"x":7.5,"y":87.5,"v":166.8},{"x":12.5,"y":87.5,"v":167},{"x":17.5,"y":87.5,"v":167.5},{"x":22.5,"y":87.5,"v":167.8},
{"x":-22.5,"y":92.5,"v":167.8},{"x":-17.5,"y":92.5,"v":167.5},{"x":-12.5,"y":92.5,"v":167.1},{"x":-7.5,"y":92.5,"v":166.8},{"x":-2.5,"y":92.5,"v":166.6},{"x":2.5,"y":92.5,"v":166.5},{"x":7.5,"y":92.5,"v":166.4},{"x":12.5,"y":92.5,"v":166.7},{"x":17.5,"y":92.5,"v":167.2},{"x":22.5,"y":92.5,"v":167.6},
{"x":-22.5,"y":97.5,"v":167.7},{"x":-17.5,"y":97.5,"v":167.4},{"x":-12.5,"y":97.5,"v":167},{"x":-7.5,"y":97.5,"v":166.6},{"x":-2.5,"y":97.5,"v":166.4},{"x":2.5,"y":97.5,"v":166.3},{"x":7.5,"y":97.5,"v":166.2},{"x":12.5,"y":97.5,"v":166.5},{"x":17.5,"y":97.5,"v":166.9},{"x":22.5,"y":97.5,"v":167.3}],
"bar":[{"y":163,"y2":163.6,"v":163.25},{"y":163.5,"y2":164.1,"v":163.75},{"y":164,"y2":164.6,"v":164.25},{"y":164.5,"y2":165.1,"v":164.75},{"y":165,"y2":165.6,"v":165.25},{"y":165.5,"y2":166.1,"v":165.75},{"y":166,"y2":166.6,"v":166.25},{"y":166.5,"y2":167.1,"v":166.75},{"y":167,"y2":167.6,"v":167.25},{"y":167.5,"y2":168.1,"v":167.75},{"y":168,"y2":168.6,"v":168.25},{"y":168.5,"y2":169.1,"v":168.75},{"y":169,"y2":169.6,"v":169.25},{"y":169.5,"y2":170.1,"v":169.75},{"y":170,"y2":170.6,"v":170.25},{"y":170.5,"y2":171.1,"v":170.75},{"y":171,"y2":171.6,"v":171.25},{"y":171.5,"y2":172.1,"v":171.75},{"y":172,"y2":172.6,"v":172.25},{"y":172.5,"y2":173.1,"v":172.75},{"y":173,"y2":173.6,"v":173.25},{"y":173.5,"y2":174.1,"v":173.75},{"y":174,"y2":174.6,"v":174.25},{"y":174.5,"y2":175.1,"v":174.75},{"y":175,"y2":175.6,"v":175.25},{"y":175.5,"y2":176.1,"v":175.75},{"y":176,"y2":176.6,"v":176.25},{"y":176.5,"y2":177.1,"v":176.75},{"y":177,"y2":177.6,"v":177.25},{"y":177.5,"y2":178.1,"v":177.75},{"y":178,"y2":178.6,"v":178.25},{"y":178.5,"y2":179.1,"v":178.75},{"y":179,"y2":179.6,"v":179.25},{"y":179.5,"y2":180.1,"v":179.75},{"y":180,"y2":180.6,"v":180.25},{"y":180.5,"y2":181.1,"v":180.75},{"y":181,"y2":181.6,"v":181.25},{"y":181.5,"y2":182.1,"v":181.75},{"y":182,"y2":182.6,"v":182.25},{"y":182.5,"y2":183.1,"v":182.75},{"y":183,"y2":183.6,"v":183.25},{"y":183.5,"y2":184.1,"v":183.75},{"y":184,"y2":184.6,"v":184.25},{"y":184.5,"y2":185,"v":184.75}]
},
"resolve":{"scale":{"color":"independent"}},
"vconcat":[
{"width":533.5,"height":340,"view":{"stroke":null},
"encoding":{"x":{"field":"x","type":"quantitative","axis":null,"stack":null,"scale":{"domain":[-310.5,1290],"nice":false,"zero":false}},"y":{"field":"y","type":"quantitative","axis":null,"scale":{"domain":[1020,0],"nice":false,"zero":false}}},
"layer":[
{"data":{"name":"rSide"},"mark":{"type":"area","orient":"horizontal","interpolate":"cardinal"},"encoding":{"x2":{"field":"x2"},"detail":{"field":"g"},"color":{"field":"b","type":"quantitative","legend":null,"scale":{"domain":[0,255],"range":["#000000","#ffffff"]}}}},
{"data":{"name":"aR"},"mark":{"type":"line","interpolate":"cardinal","order":false,"xOffset":4.25,"color":"#111","strokeWidth":1.1,"opacity":0.5},"encoding":{}},
{"data":{"name":"aR"},"mark":{"type":"line","interpolate":"cardinal","order":false,"xOffset":8.5,"color":"#111","strokeWidth":1.1,"opacity":0.5},"encoding":{}},
{"data":{"name":"aR"},"mark":{"type":"line","interpolate":"cardinal","order":false,"xOffset":12.75,"color":"#111","strokeWidth":1.1,"opacity":0.5},"encoding":{}},
{"data":{"name":"aR"},"mark":{"type":"line","interpolate":"cardinal","order":false,"xOffset":17,"color":"#111","strokeWidth":1.1,"opacity":0.5},"encoding":{}},
{"data":{"name":"aR"},"mark":{"type":"line","interpolate":"cardinal","order":false,"xOffset":21.25,"color":"#111","strokeWidth":1.1,"opacity":0.5},"encoding":{}},
{"data":{"name":"aR"},"mark":{"type":"line","interpolate":"cardinal","order":false,"xOffset":25.5,"color":"#111","strokeWidth":1.1,"opacity":0.5},"encoding":{}},
{"data":{"name":"aR"},"mark":{"type":"line","interpolate":"cardinal","order":false,"xOffset":29.75,"color":"#111","strokeWidth":1.1,"opacity":0.5},"encoding":{}},
{"data":{"name":"aR"},"mark":{"type":"line","interpolate":"cardinal","order":false,"xOffset":34,"color":"#111","strokeWidth":1.1,"opacity":0.5},"encoding":{}},
{"data":{"name":"aR"},"mark":{"type":"line","interpolate":"cardinal","order":false,"xOffset":38.25,"color":"#111","strokeWidth":1.1,"opacity":0.5},"encoding":{}},
{"data":{"name":"aR"},"mark":{"type":"line","interpolate":"cardinal","order":false,"xOffset":42.5,"color":"#111","strokeWidth":1.1,"opacity":0.5},"encoding":{}},
{"data":{"name":"aR"},"mark":{"type":"line","interpolate":"cardinal","order":false,"xOffset":46.75,"color":"#111","strokeWidth":1.1,"opacity":0.5},"encoding":{}},
{"data":{"name":"aR"},"mark":{"type":"line","interpolate":"cardinal","order":false,"xOffset":51,"color":"#444","strokeWidth":0.9},"encoding":{}},
{"data":{"name":"rFace"},"mark":{"type":"area","orient":"horizontal","interpolate":"cardinal"},"encoding":{"x2":{"field":"x2"},"detail":{"field":"g"},"color":{"field":"b","type":"quantitative","legend":null}}},
{"data":{"name":"iR"},"mark":{"type":"line","interpolate":"cardinal","order":false,"xOffset":2.3,"color":"#111","strokeWidth":0.9,"opacity":0.5},"encoding":{}},
{"data":{"name":"iR"},"mark":{"type":"line","interpolate":"cardinal","order":false,"xOffset":4.6,"color":"#111","strokeWidth":0.9,"opacity":0.5},"encoding":{}},
{"data":{"name":"iR"},"mark":{"type":"line","interpolate":"cardinal","order":false,"xOffset":6.9,"color":"#111","strokeWidth":0.9,"opacity":0.5},"encoding":{}},
{"data":{"name":"iR"},"mark":{"type":"line","interpolate":"cardinal","order":false,"xOffset":9.2,"color":"#111","strokeWidth":0.9,"opacity":0.5},"encoding":{}},
{"data":{"name":"iR"},"mark":{"type":"line","interpolate":"cardinal","order":false,"xOffset":11.5,"color":"#111","strokeWidth":0.9,"opacity":0.5},"encoding":{}},
{"data":{"name":"iR"},"mark":{"type":"line","interpolate":"cardinal","order":false,"xOffset":13.8,"color":"#111","strokeWidth":0.9,"opacity":0.5},"encoding":{}},
{"data":{"name":"iR"},"mark":{"type":"line","interpolate":"cardinal","order":false,"xOffset":16.1,"color":"#111","strokeWidth":0.9,"opacity":0.5},"encoding":{}},
{"data":{"name":"iR"},"mark":{"type":"line","interpolate":"cardinal","order":false,"xOffset":18.4,"color":"#111","strokeWidth":0.9,"opacity":0.5},"encoding":{}},
{"data":{"name":"iR"},"mark":{"type":"line","interpolate":"cardinal","order":false,"xOffset":20.7,"color":"#111","strokeWidth":0.9,"opacity":0.5},"encoding":{}},
{"data":{"name":"rHole"},"mark":{"type":"area","orient":"horizontal","interpolate":"cardinal","color":"#ffffff"},"encoding":{"x2":{"field":"x2"}}},
{"data":{"name":"rLines"},"mark":{"type":"line","interpolate":"cardinal","order":false,"color":"#444","strokeWidth":0.9},"encoding":{"detail":{"field":"g"}}},
{"data":{"name":"aR"},"mark":{"type":"line","interpolate":"cardinal","order":false,"color":"#444","strokeWidth":0.9},"encoding":{}},
{"data":{"name":"rGroove"},"mark":{"type":"line","interpolate":"cardinal","order":false,"color":"#444","strokeWidth":1.8},"encoding":{"detail":{"field":"g"}}},
{"data":{"name":"rSeg"},"mark":{"type":"rule","color":"#444","strokeWidth":0.9},"encoding":{"x2":{"field":"x2"},"y2":{"field":"y2"}}},
{"data":{"name":"lSide"},"mark":{"type":"area","orient":"horizontal","interpolate":"cardinal"},"encoding":{"x2":{"field":"x2"},"detail":{"field":"g"},"color":{"field":"b","type":"quantitative","legend":null}}},
{"data":{"name":"aL"},"mark":{"type":"line","interpolate":"cardinal","order":false,"xOffset":4.5,"color":"#111","strokeWidth":1.1,"opacity":0.5},"encoding":{}},
{"data":{"name":"aL"},"mark":{"type":"line","interpolate":"cardinal","order":false,"xOffset":9,"color":"#111","strokeWidth":1.1,"opacity":0.5},"encoding":{}},
{"data":{"name":"aL"},"mark":{"type":"line","interpolate":"cardinal","order":false,"xOffset":13.5,"color":"#111","strokeWidth":1.1,"opacity":0.5},"encoding":{}},
{"data":{"name":"aL"},"mark":{"type":"line","interpolate":"cardinal","order":false,"xOffset":18,"color":"#111","strokeWidth":1.1,"opacity":0.5},"encoding":{}},
{"data":{"name":"aL"},"mark":{"type":"line","interpolate":"cardinal","order":false,"xOffset":22.5,"color":"#111","strokeWidth":1.1,"opacity":0.5},"encoding":{}},
{"data":{"name":"aL"},"mark":{"type":"line","interpolate":"cardinal","order":false,"xOffset":27,"color":"#111","strokeWidth":1.1,"opacity":0.5},"encoding":{}},
{"data":{"name":"aL"},"mark":{"type":"line","interpolate":"cardinal","order":false,"xOffset":31.5,"color":"#111","strokeWidth":1.1,"opacity":0.5},"encoding":{}},
{"data":{"name":"aL"},"mark":{"type":"line","interpolate":"cardinal","order":false,"xOffset":36,"color":"#111","strokeWidth":1.1,"opacity":0.5},"encoding":{}},
{"data":{"name":"aL"},"mark":{"type":"line","interpolate":"cardinal","order":false,"xOffset":40.5,"color":"#111","strokeWidth":1.1,"opacity":0.5},"encoding":{}},
{"data":{"name":"aL"},"mark":{"type":"line","interpolate":"cardinal","order":false,"xOffset":45,"color":"#111","strokeWidth":1.1,"opacity":0.5},"encoding":{}},
{"data":{"name":"aL"},"mark":{"type":"line","interpolate":"cardinal","order":false,"xOffset":49.5,"color":"#111","strokeWidth":1.1,"opacity":0.5},"encoding":{}},
{"data":{"name":"aL"},"mark":{"type":"line","interpolate":"cardinal","order":false,"xOffset":54.3,"color":"#444","strokeWidth":0.9},"encoding":{}},
{"data":{"name":"lFace"},"mark":{"type":"area","orient":"horizontal","interpolate":"cardinal"},"encoding":{"x2":{"field":"x2"},"detail":{"field":"g"},"color":{"field":"b","type":"quantitative","legend":null}}},
{"data":{"name":"iL"},"mark":{"type":"line","interpolate":"cardinal","order":false,"xOffset":2.67,"color":"#111","strokeWidth":0.9,"opacity":0.5},"encoding":{}},
{"data":{"name":"iL"},"mark":{"type":"line","interpolate":"cardinal","order":false,"xOffset":5.33,"color":"#111","strokeWidth":0.9,"opacity":0.5},"encoding":{}},
{"data":{"name":"iL"},"mark":{"type":"line","interpolate":"cardinal","order":false,"xOffset":8,"color":"#111","strokeWidth":0.9,"opacity":0.5},"encoding":{}},
{"data":{"name":"iL"},"mark":{"type":"line","interpolate":"cardinal","order":false,"xOffset":10.67,"color":"#111","strokeWidth":0.9,"opacity":0.5},"encoding":{}},
{"data":{"name":"iL"},"mark":{"type":"line","interpolate":"cardinal","order":false,"xOffset":13.33,"color":"#111","strokeWidth":0.9,"opacity":0.5},"encoding":{}},
{"data":{"name":"iL"},"mark":{"type":"line","interpolate":"cardinal","order":false,"xOffset":16,"color":"#111","strokeWidth":0.9,"opacity":0.5},"encoding":{}},
{"data":{"name":"iL"},"mark":{"type":"line","interpolate":"cardinal","order":false,"xOffset":18.67,"color":"#111","strokeWidth":0.9,"opacity":0.5},"encoding":{}},
{"data":{"name":"iL"},"mark":{"type":"line","interpolate":"cardinal","order":false,"xOffset":21.33,"color":"#111","strokeWidth":0.9,"opacity":0.5},"encoding":{}},
{"data":{"name":"iL"},"mark":{"type":"line","interpolate":"cardinal","order":false,"xOffset":24,"color":"#111","strokeWidth":0.9,"opacity":0.5},"encoding":{}},
{"data":{"name":"iL"},"mark":{"type":"line","interpolate":"cardinal","order":false,"xOffset":26.67,"color":"#111","strokeWidth":0.9,"opacity":0.5},"encoding":{}},
{"data":{"name":"lHole"},"mark":{"type":"area","orient":"horizontal","interpolate":"cardinal","color":"#ffffff"},"encoding":{"x2":{"field":"x2"}}},
{"data":{"name":"lLines"},"mark":{"type":"line","interpolate":"cardinal","order":false,"color":"#444","strokeWidth":0.9},"encoding":{"detail":{"field":"g"}}},
{"data":{"name":"aL"},"mark":{"type":"line","interpolate":"cardinal","order":false,"color":"#444","strokeWidth":0.9},"encoding":{}},
{"data":{"name":"lSeg"},"mark":{"type":"rule","color":"#444","strokeWidth":0.9},"encoding":{"x2":{"field":"x2"},"y2":{"field":"y2"}}},
{"data":{"name":"ringLabel"},"mark":{"type":"text","fontSize":29,"color":"#222222","align":"center","baseline":"alphabetic"},"encoding":{"text":{"field":"t"}}}
]},
{"bounds":"flush","spacing":135,"hconcat":[
{"width":267.5,"height":269.7,
"encoding":{"x":{"field":"x","type":"quantitative","stack":null,"title":"mm","scale":{"domain":[-100,100],"nice":false,"zero":false},"axis":{"values":[-100,-50,0,50,100],"tickSize":-3,"labelPadding":13,"titlePadding":3}},"y":{"field":"y","type":"quantitative","stack":null,"title":"mm","scale":{"domain":[-100,100],"nice":false,"zero":false},"axis":{"values":[-100,-50,0,50,100],"tickSize":-3,"labelPadding":12,"titlePadding":-2}}},
"layer":[
{"data":{"name":"field"},"mark":{"type":"area","interpolate":"linear","orient":"vertical"},"encoding":{"y2":{"field":"y2"},"color":{"field":"v","type":"quantitative","legend":null,"scale":{"domain":[163,165.75,168.5,171.25,174,176.75,179.5,182.25,185],"range":["#352a87","#0f5cdd","#1481d6","#06a4ca","#2eb7a4","#87bf77","#d1bb59","#fec832","#f9fb0e"]}}}},
{"data":{"name":"spots"},"mark":{"type":"point","filled":true,"size":60,"opacity":0.14},"encoding":{"color":{"field":"v","type":"quantitative","legend":null}}},
{"data":{"values":[{"x":-48,"y":120.2,"t":"B"},{"x":-38.8,"y":113.3,"t":"z"},{"x":-28.3,"y":120.2,"t":"in r-"},{"x":11,"y":120.2,"t":"plane"}]},"mark":{"type":"text","fontSize":17.5,"fontWeight":"bold","color":"#333333","align":"left","baseline":"alphabetic"},"encoding":{"text":{"field":"t"}}},
{"data":{"values":[{"x":-0.9,"y":120.2,"t":"θ"}]},"mark":{"type":"text","fontSize":17.5,"fontWeight":"bold","fontStyle":"italic","color":"#333333","align":"left","baseline":"alphabetic"},"encoding":{"text":{"field":"t"}}},
{"data":{"values":[{"x":-16.6,"y":-164.7,"t":"(b)"}]},"mark":{"type":"text","fontSize":29,"color":"#222222","align":"center","baseline":"alphabetic"},"encoding":{"text":{"field":"t"}}}
]},
{"bounds":"flush","spacing":64,"hconcat":[
{"width":133.7,"height":269.7,"view":{"stroke":null},
"encoding":{"x":{"field":"x","type":"quantitative","stack":null,"title":"z/mm","scale":{"domain":[-25,25],"nice":false,"zero":false},"axis":{"values":[-25,0,25],"tickSize":0,"labelPadding":10,"titlePadding":8}},"y":{"field":"y","type":"quantitative","title":"r/mm","scale":{"domain":[0,100],"nice":false,"zero":false},"axis":{"values":[0,20,40,60,80,100],"tickSize":0,"labelPadding":8,"titlePadding":1}}},
"layer":[
{"data":{"name":"rz"},"mark":{"type":"rect","width":14.5,"height":14.5,"clip":true},"encoding":{"color":{"field":"v","type":"quantitative","legend":null,"scale":{"domain":[163,165.75,168.5,171.25,174,176.75,179.5,182.25,185],"range":["#352a87","#0f5cdd","#1481d6","#06a4ca","#2eb7a4","#87bf77","#d1bb59","#fec832","#f9fb0e"]}}}},
{"data":{"values":[{"x":-46.6,"y":116.6,"y2":-19.4}]},"mark":{"type":"rule","color":"#aaaaaa","strokeWidth":1.5},"encoding":{"y2":{"field":"y2"}}},
{"data":{"values":[{"x":-24,"y":109.2,"t":"B"},{"x":-19.4,"y":105.7,"t":"z"},{"x":-14.2,"y":109.2,"t":"in r-z plane"}]},"mark":{"type":"text","fontSize":17.5,"fontWeight":"bold","color":"#333333","align":"left","baseline":"alphabetic"},"encoding":{"text":{"field":"t"}}},
{"data":{"values":[{"x":13.8,"y":-32.4,"t":"(c)"}]},"mark":{"type":"text","fontSize":29,"color":"#222222","align":"center","baseline":"alphabetic"},"encoding":{"text":{"field":"t"}}}
]},
{"width":25.3,"height":269.7,"data":{"name":"bar"},
"title":{"text":"mT","fontSize":18,"fontWeight":"normal","color":"#444444","font":"Liberation Sans","offset":6},
"mark":{"type":"rect"},
"encoding":{"y":{"field":"y","type":"quantitative","title":null,"scale":{"domain":[163,185],"nice":false,"zero":false},"axis":{"orient":"right","values":[165,170,175,180,185],"tickSize":-3,"labelPadding":9,"labelOffset":1.5}},"y2":{"field":"y2"},"color":{"field":"v","type":"quantitative","legend":null,"scale":{"domain":[163,165.75,168.5,171.25,174,176.75,179.5,182.25,185],"range":["#352a87","#0f5cdd","#1481d6","#06a4ca","#2eb7a4","#87bf77","#d1bb59","#fec832","#f9fb0e"]}}}}
]}
]}
],
"bounds":"flush",
"spacing":108
}
